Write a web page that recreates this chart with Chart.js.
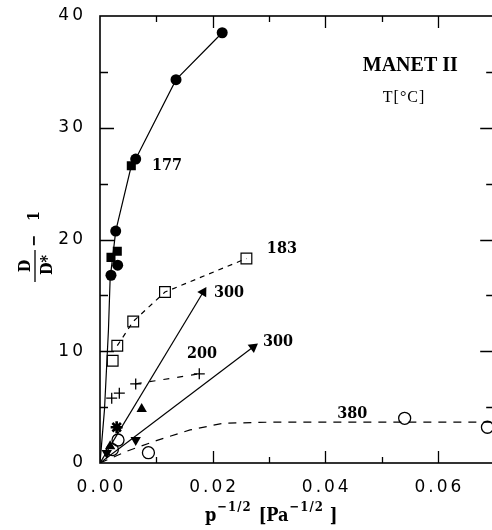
<!DOCTYPE html>
<html>
<head>
<meta charset="utf-8">
<script src="https://cdn.jsdelivr.net/npm/chart.js@4/dist/chart.umd.min.js"></script>
<style>
  html, body { margin: 0; padding: 0; background: #fff; overflow: hidden; width: 492px; height: 530px; }
  canvas { display: block; }
</style>
</head>
<body>
<canvas id="c" width="503" height="530"></canvas>
<script>
// D/D* - 1 against p^-1/2 for MANET II, one series per temperature [°C]
const xTicks = [0, 0.02, 0.04, 0.06];
const yTicks = [0, 10, 20, 30, 40];

// 177 °C: filled circles and filled squares, solid fitted curve
const t177Circles = [[0.00195, 16.8], [0.00314, 17.7], [0.00279, 20.75], [0.00634, 27.2], [0.0135, 34.3], [0.0217, 38.5]];
const t177Squares = [[0.00195, 18.4], [0.00307, 18.95], [0.00556, 26.6]];
const t177Curve = [[0, 0], [0.0008, 4.8], [0.0015, 11.9], [0.0018, 16.5], [0.00279, 20.75], [0.00556, 26.6], [0.00634, 27.2], [0.0135, 34.3], [0.0217, 38.5]];

// 183 °C: open squares, dashed curve
const t183 = [[0.00225, 9.15], [0.00307, 10.5], [0.0059, 12.67], [0.01154, 15.3], [0.026, 18.3]];
const t183Curve = [[0.00307, 10.5], [0.0059, 12.67], [0.01154, 15.3], [0.026, 18.3]];

// 200 °C: plus signs, dashed curve
const t200 = [[0.00208, 5.8], [0.00343, 6.25], [0.00634, 7.08], [0.01763, 7.98]];
const t200Curve = [[0.00634, 7.08], [0.01763, 7.98]];

// 300 °C: triangles up / down, each with a straight arrow from the origin
const t300Up = [[0.0018, 1.5], [0.0074, 4.84], [0.01834, 15.3]];
const t300UpLine = [[0, 0], [0.01834, 15.3]];
const t300Star = [[0.00296, 3.2]];
const t300Down = [[0.0012, 0.9], [0.00634, 2.06], [0.0272, 10.38]];
const t300DownLine = [[0, 0], [0.0272, 10.38]];

// 380 °C: open circles, dashed curve
const t380 = [[0.0022, 1.2], [0.0032, 2.06], [0.0086, 0.92], [0.0541, 4.0], [0.0688, 3.2]];
const t380Curve = [[0, 0], [0.005, 1.1], [0.01, 2.0], [0.016, 2.96], [0.0219, 3.56], [0.03, 3.65], [0.07, 3.65]];

const tempTags = ['177', '183', '300', '300', '200', '380'];

const pts = a => a.map(([x, y]) => ({ x, y }));

const markers = (data, style, extra) => Object.assign({
  data: pts(data), showLine: false, pointStyle: style,
  pointBackgroundColor: '#000', pointBorderColor: '#000', pointBorderWidth: 0, pointRadius: 5.5
}, extra || {});

const curve = (data, dash) => ({
  data: pts(data), showLine: true, borderColor: '#000', borderWidth: 1.2,
  borderDash: dash || [], pointRadius: 0, tension: 0, fill: false
});

// triangle at the end of an arrow is turned to point along the line from the origin
function arrowRotation(base) {
  return c => {
    const n = c.dataset.data.length;
    if (c.dataIndex !== n - 1) return base;
    const xs = c.chart.scales.x, ys = c.chart.scales.y, p = c.dataset.data[c.dataIndex];
    const dx = xs.getPixelForValue(p.x) - xs.getPixelForValue(0);
    const dy = ys.getPixelForValue(p.y) - ys.getPixelForValue(0);
    return Math.atan2(dx, -dy) * 180 / Math.PI;
  };
}

const serifBold = '"DejaVu Serif Condensed", "DejaVu Serif", serif';
const tickFont = '17px "DejaVu Sans", sans-serif';

const decor = {
  id: 'decor',
  beforeDatasetsDraw(chart) {
    const ctx = chart.ctx;
    const { left, right, top, bottom } = chart.chartArea;
    const xs = chart.scales.x, ys = chart.scales.y;
    ctx.save();
    ctx.strokeStyle = '#000';
    ctx.lineWidth = 1.6;
    ctx.strokeRect(left, top, right - left, bottom - top);
    // inward tick marks on all four sides
    ctx.lineWidth = 1.3;
    ctx.beginPath();
    for (let i = 1; i <= 7; i++) {
      const px = Math.round(xs.getPixelForValue(i * 0.01)) + 0.5;
      const len = i % 2 === 0 ? 12 : 6;
      ctx.moveTo(px, bottom); ctx.lineTo(px, bottom - len);
      ctx.moveTo(px, top); ctx.lineTo(px, top + len);
    }
    for (let i = 1; i <= 7; i++) {
      const py = Math.round(ys.getPixelForValue(i * 5)) + 0.5;
      const len = i % 2 === 0 ? 14 : 8;
      ctx.moveTo(left, py); ctx.lineTo(left + len, py);
      ctx.moveTo(right, py); ctx.lineTo(right - len, py);
    }
    ctx.stroke();

    // tick labels
    ctx.fillStyle = '#000';
    ctx.font = tickFont;
    ctx.letterSpacing = '3px';
    ctx.textBaseline = 'middle';
    ctx.textAlign = 'center';
    xTicks.forEach(v => ctx.fillText(v.toFixed(2), xs.getPixelForValue(v) + 1.5, bottom + 25));
    ctx.textAlign = 'right';
    yTicks.forEach(v => ctx.fillText(String(v), left - 14, ys.getPixelForValue(v)));
    ctx.letterSpacing = '0px';
    ctx.restore();
  },
  afterDraw(chart) {
    const ctx = chart.ctx;
    const xs = chart.scales.x, ys = chart.scales.y;
    const X = v => xs.getPixelForValue(v), Y = v => ys.getPixelForValue(v);
    ctx.save();
    ctx.fillStyle = '#000';
    ctx.strokeStyle = '#000';

    // temperature tags beside each series
    ctx.font = 'bold 16px ' + serifBold;
    ctx.textAlign = 'center';
    ctx.textBaseline = 'middle';
    const tagPos = [[0.0119, 26.6], [0.0323, 19.2], [0.0229, 15.25], [0.0316, 10.85], [0.0181, 9.78], [0.0448, 4.4]];
    tempTags.forEach((t, i) => ctx.fillText(t, X(tagPos[i][0]), Y(tagPos[i][1])));

    // material name and legend heading
    ctx.font = 'bold 20px "Liberation Serif", serif';
    ctx.textBaseline = 'alphabetic';
    ctx.fillText('MANET II', X(0.0551), Y(35.05));
    ctx.font = '16px "Liberation Serif", serif';
    ctx.letterSpacing = '1px';
    ctx.fillText('T[°C]', X(0.054), Y(32.3));
    ctx.letterSpacing = '0px';

    // x-axis title: p^-1/2 [Pa^-1/2], laid out piece by piece
    const big = 'bold 18px ' + serifBold, small = 'bold 13px ' + serifBold;
    ctx.textAlign = 'left';
    const base = 521, sup = 511;
    const pieces = [['p', big, base, 1], ['−1/2', small, sup, 7], ['[Pa', big, base, 1], ['−1/2', small, sup, 6], [']', big, base, 0]];
    let x = 205;
    pieces.forEach(([s, f, y, gap]) => {
      ctx.font = f;
      ctx.letterSpacing = f === small ? '1px' : '0px';
      ctx.fillText(s, x, y);
      x += ctx.measureText(s).width + gap;
    });
    ctx.letterSpacing = '0px';

    // y-axis title: D/D* - 1, rotated
    ctx.translate(35, 266);
    ctx.rotate(-Math.PI / 2);
    ctx.font = 'bold 16px ' + serifBold;
    ctx.textAlign = 'center';
    ctx.textBaseline = 'alphabetic';
    ctx.fillText('D', 0, -5);
    ctx.fillText('D*', 1, 17);
    ctx.lineWidth = 1.3;
    ctx.beginPath(); ctx.moveTo(-16, 0); ctx.lineTo(16, 0); ctx.stroke();
    ctx.textBaseline = 'middle';
    ctx.fillText('−', 25, 0);
    ctx.fillText('1', 50, 0);
    ctx.restore();
  }
};

new Chart(document.getElementById('c'), {
  type: 'scatter',
  data: {
    datasets: [
      curve(t177Curve),
      curve(t183Curve, [5, 5]),
      curve(t200Curve, [6, 8]),
      curve(t300UpLine),
      curve(t300DownLine),
      curve(t380Curve, [8, 7]),
      markers(t177Circles, 'circle', { pointRadius: 5.5 }),
      markers(t177Squares, 'rect', { pointRadius: 6.4 }),
      markers(t183, 'rect', { pointRadius: 7.6, pointBackgroundColor: '#fff', pointBorderWidth: 1.2 }),
      markers(t200, 'cross', { pointRadius: 5.5, pointBorderWidth: 1.3 }),
      markers(t300Up, 'triangle', { pointRadius: 6, pointRotation: arrowRotation(0) }),
      markers(t300Down, 'triangle', { pointRadius: 6, pointRotation: arrowRotation(180) }),
      markers(t300Star, 'star', { pointRadius: 6, pointBorderWidth: 2.6 }),
      markers(t380, 'circle', { pointRadius: 6, pointBackgroundColor: 'rgba(0,0,0,0)', pointBorderWidth: 1.3 })
    ]
  },
  options: {
    responsive: false,
    animation: false,
    devicePixelRatio: 1,
    layout: { padding: { top: 16, right: 2, left: 0, bottom: 0 } },
    plugins: { legend: { display: false }, tooltip: { enabled: false } },
    scales: {
      x: {
        type: 'linear', min: 0, max: 0.07,
        grid: { display: false }, border: { display: false },
        ticks: { display: false },
        afterFit: s => { s.height = 67; }
      },
      y: {
        type: 'linear', min: 0, max: 40,
        grid: { display: false }, border: { display: false },
        ticks: { display: false },
        afterFit: s => { s.width = 100; }
      }
    }
  },
  plugins: [decor]
});
</script>
</body>
</html>
